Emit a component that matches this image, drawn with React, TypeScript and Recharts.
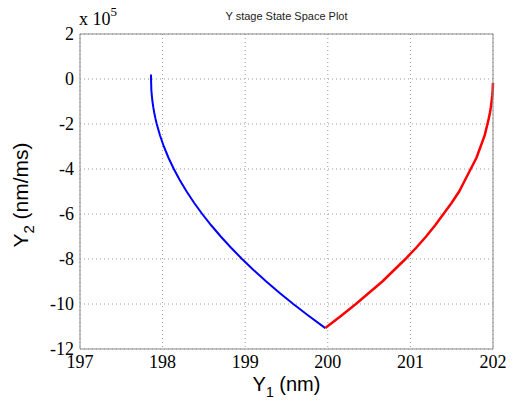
import React from "react";
import { LineChart, Line, XAxis, YAxis, CartesianGrid } from "recharts";

// Y1 in nm, Y2 in units of 1e5 nm/ms
const blueY1 = [
  197.86, 197.86, 197.862, 197.864, 197.87, 197.877, 197.887, 197.899, 197.913, 197.929, 197.968, 198.015, 198.071,
  198.136, 198.209, 198.291, 198.381, 198.48, 198.588, 198.704, 198.829, 198.962, 199.104, 199.255, 199.414,
  199.582, 199.759, 199.97,
];
const blueY2 = [
  0.2, 0, -0.25, -0.5, -0.75, -1, -1.25, -1.5, -1.75, -2, -2.5, -3, -3.5, -4, -4.5, -5, -5.5, -6, -6.5, -7, -7.5,
  -8, -8.5, -9, -9.5, -10, -10.5, -11.07,
];
const redY1 = [
  199.97, 200.17, 200.34, 200.5, 200.66, 200.8, 200.94, 201.07, 201.19, 201.3, 201.4, 201.5, 201.59, 201.66,
  201.73, 201.8, 201.85, 201.875, 201.9, 201.916, 201.933, 201.949, 201.963, 201.974, 201.983, 201.991, 201.996,
  201.999, 202.0,
];
const redY2 = [
  -11.07, -10.5, -10, -9.5, -9, -8.5, -8, -7.5, -7, -6.5, -6, -5.5, -5, -4.5, -4, -3.5, -3, -2.75, -2.5, -2.25,
  -2, -1.75, -1.5, -1.25, -1, -0.75, -0.5, -0.25, -0.18,
];

const xTicks = [197, 198, 199, 200, 201, 202];
const yTicks = [-12, -10, -8, -6, -4, -2, 0, 2];

const blueData = blueY1.map((y1, i) => ({ y1, y2: blueY2[i] }));
const redData = redY1.map((y1, i) => ({ y1, y2: redY2[i] }));

const boxColor = "#8a8a8a";
const tickFont = { fontFamily: "'Liberation Serif', 'Times New Roman', serif", fontSize: 18, fill: "#000" };

const App: React.FC = () => {
  return (
    <div style={{ position: "absolute", left: 0, top: 0, width: 515, height: 404, background: "#fff" }}>
      <LineChart width={515} height={404} margin={{ top: 34, right: 22, bottom: 30, left: 40 }}>
        <CartesianGrid stroke="#9a9a9a" strokeDasharray="1 3" />
        <XAxis
          type="number"
          dataKey="y1"
          domain={[197, 202]}
          ticks={xTicks}
          height={25}
          tickLine={false}
          axisLine={false}
          tickSize={0}
          tickMargin={6}
          tick={tickFont}
        />
        <XAxis
          xAxisId="bin"
          type="number"
          domain={[197, 202]}
          ticks={xTicks}
          mirror
          tick={false}
          tickSize={5}
          tickLine={{ stroke: "#333" }}
          axisLine={{ stroke: boxColor }}
        />
        <XAxis
          xAxisId="top"
          orientation="top"
          type="number"
          domain={[197, 202]}
          ticks={xTicks}
          mirror
          tick={false}
          tickSize={5}
          tickLine={{ stroke: "#333" }}
          axisLine={{ stroke: boxColor }}
        />
        <YAxis
          type="number"
          dataKey="y2"
          domain={[-12, 2]}
          ticks={yTicks}
          width={40}
          tickLine={false}
          axisLine={false}
          tickSize={0}
          tickMargin={6}
          tick={tickFont}
        />
        <YAxis
          yAxisId="lin"
          type="number"
          domain={[-12, 2]}
          ticks={yTicks}
          mirror
          tick={false}
          tickSize={5}
          tickLine={{ stroke: "#333" }}
          axisLine={{ stroke: boxColor }}
        />
        <YAxis
          yAxisId="right"
          orientation="right"
          type="number"
          domain={[-12, 2]}
          ticks={yTicks}
          mirror
          tick={false}
          tickSize={5}
          tickLine={{ stroke: "#333" }}
          axisLine={{ stroke: boxColor }}
        />
        <Line
          data={blueData}
          dataKey="y2"
          type="linear"
          stroke="#0000ff"
          strokeWidth={2}
          dot={false}
          isAnimationActive={false}
        />
        <Line
          data={redData}
          dataKey="y2"
          type="linear"
          stroke="#ff0000"
          strokeWidth={2.5}
          dot={false}
          isAnimationActive={false}
        />
      </LineChart>

      <div
        style={{
          position: "absolute",
          left: 80,
          width: 413,
          top: 10,
          textAlign: "center",
          fontFamily: "Arial, 'Liberation Sans', sans-serif",
          fontSize: 11,
          lineHeight: "12px",
          color: "#222",
        }}
      >
        Y stage State Space Plot
      </div>

      <div
        style={{
          position: "absolute",
          left: 79,
          top: 9,
          fontFamily: "'Liberation Serif', 'Times New Roman', serif",
          fontSize: 18,
          lineHeight: "20px",
          color: "#000",
          whiteSpace: "nowrap",
        }}
      >
        x 10
        <span style={{ fontSize: 13, position: "relative", top: -9 }}>5</span>
      </div>

      <div
        style={{
          position: "absolute",
          left: 80,
          width: 413,
          top: 373,
          textAlign: "center",
          fontFamily: "Arial, 'Liberation Sans', sans-serif",
          fontSize: 20,
          lineHeight: "22px",
          color: "#000",
          whiteSpace: "nowrap",
        }}
      >
        Y<span style={{ fontSize: 14, position: "relative", top: 6 }}>1</span> (nm)
      </div>

      <div
        style={{
          position: "absolute",
          left: 22,
          top: 195,
          transform: "translate(-50%, -50%) rotate(-90deg)",
          fontFamily: "Arial, 'Liberation Sans', sans-serif",
          fontSize: 21,
          lineHeight: "22px",
          color: "#000",
          whiteSpace: "nowrap",
        }}
      >
        Y<span style={{ fontSize: 15, position: "relative", top: 6 }}>2</span> (nm/ms)
      </div>
    </div>
  );
};

export default App;
